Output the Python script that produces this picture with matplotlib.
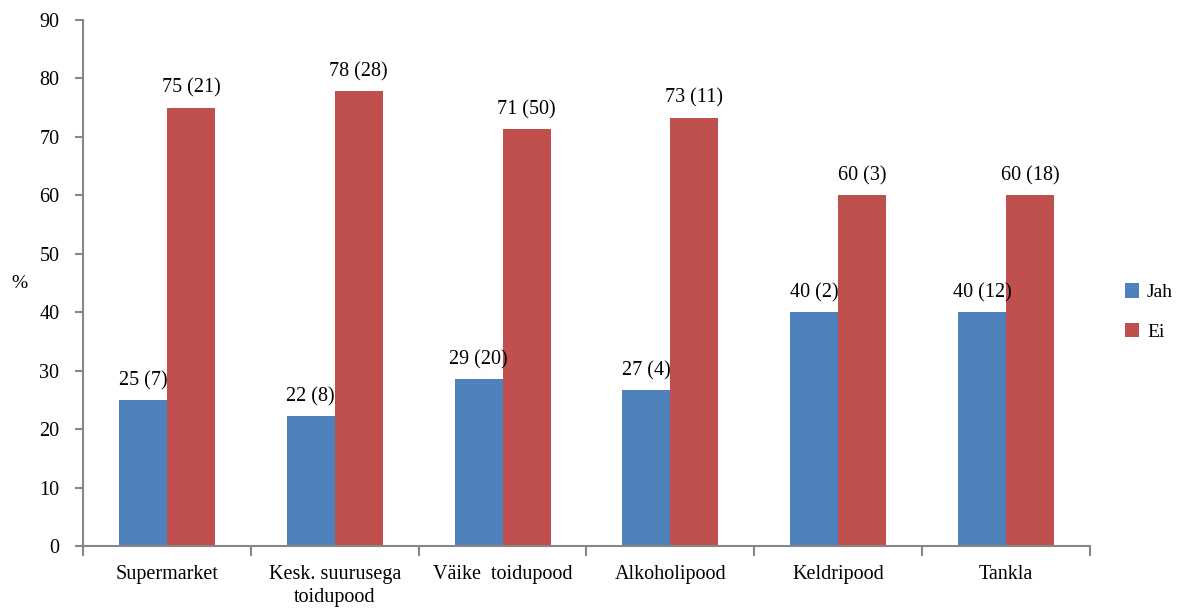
import matplotlib
matplotlib.use("Agg")
import matplotlib.pyplot as plt
import numpy as np

categories = ["Supermarket", "Kesk. suurusega\ntoidupood", "Väike  toidupood", "Alkoholipood", "Keldripood", "Tankla"]
jah = [25.0, 22.2, 28.6, 26.7, 40.0, 40.0]
ei = [75.0, 77.8, 71.4, 73.3, 60.0, 60.0]
jah_labels = ["25 (7)", "22 (8)", "29 (20)", "27 (4)", "40 (2)", "40 (12)"]
ei_labels = ["75 (21)", "78 (28)", "71 (50)", "73 (11)", "60 (3)", "60 (18)"]
yticks = [0, 10, 20, 30, 40, 50, 60, 70, 80, 90]

plt.rcParams['font.family'] = ['Liberation Serif', 'DejaVu Serif']

fig = plt.figure(figsize=(11.89, 6.12), dpi=100)
ax = fig.add_axes([0.0698, 0.1078, 0.8469, 0.8595])

x = np.arange(len(categories))
w = 0.286
blue = "#4F81BD"
red = "#C0504D"
ax.bar(x - w/2, jah, w, color=blue, label="Jah")
ax.bar(x + w/2, ei, w, color=red, label="Ei")

for xi, v, lab in zip(x, jah, jah_labels):
    ax.annotate(lab, (xi - w/2, v), xytext=(0, 7), textcoords="offset points",
                ha="center", va="bottom", fontsize=14.5)
for xi, v, lab in zip(x, ei, ei_labels):
    ax.annotate(lab, (xi + w/2, v), xytext=(0, 7), textcoords="offset points",
                ha="center", va="bottom", fontsize=14.5)

ax.set_xlim(-0.5, len(categories) - 0.5)
ax.set_ylim(0, 90)
ax.set_yticks(yticks)
ax.set_yticklabels([str(t) for t in yticks], fontsize=14.5)

ax.set_xticks(x)
ax.set_xticklabels(categories, fontsize=14.5, linespacing=1.25)
ax.tick_params(axis='x', length=0, pad=14)
ax.set_xticks(np.arange(len(categories) + 1) - 0.5, minor=True)
ax.tick_params(axis='x', which='minor', length=7, color="#868686", width=1.5)
ax.tick_params(axis='y', length=6, color="#868686", width=1.5, pad=11)

for s in ["top", "right"]:
    ax.spines[s].set_visible(False)
for s in ["left", "bottom"]:
    ax.spines[s].set_color("#868686")
    ax.spines[s].set_linewidth(1.5)

ax.set_ylabel("%", rotation=0, fontsize=14, va="center", ha="center")
ax.yaxis.set_label_coords(-0.063, 0.5)

ax.legend(loc="center left", bbox_to_anchor=(1.017, 0.445), frameon=False,
          fontsize=14, handlelength=0.75, handleheight=0.75, labelspacing=1.1,
          handletextpad=0.4)

fig.savefig("out.png", dpi=100)
